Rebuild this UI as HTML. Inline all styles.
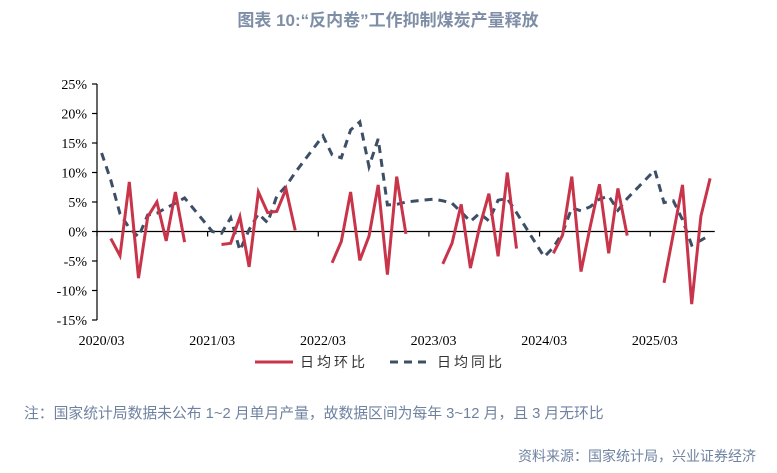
<!DOCTYPE html>
<html><head><meta charset="utf-8">
<style>
body{margin:0;background:#fff;width:777px;height:473px;overflow:hidden;font-family:"Liberation Sans","Noto Sans CJK SC",sans-serif;}
svg{position:absolute;left:0;top:0}
</style></head>
<body>
<svg width="777" height="473" id="chart">
<text x="388" y="26" text-anchor="middle" font-size="17" font-weight="bold" fill="#7d8ea6" font-family="Liberation Sans,Noto Sans CJK SC,sans-serif">图表 10:“反内卷”工作抑制煤炭产量释放</text>
<g id="axes"></g>
<g id="marks"></g>
<g>
<line x1="255" y1="362" x2="293" y2="362" stroke="#c8344a" stroke-width="3"/>
<text x="300" y="367" font-size="14" fill="#333" letter-spacing="3">日均环比</text>
<line x1="390" y1="362" x2="430" y2="362" stroke="#3d4f66" stroke-width="3" stroke-dasharray="8,6"/>
<text x="437" y="367" font-size="14" fill="#333" letter-spacing="3">日均同比</text>
</g>
<text x="24" y="418" font-size="14.8" fill="#6f82a0">注：国家统计局数据未公布 1~2 月单月产量，故数据区间为每年 3~12 月，且 3 月无环比</text>
<text x="756" y="461" text-anchor="end" font-size="14" fill="#6f82a0">资料来源：国家统计局，兴业证券经济</text>
</svg>
<script>
const yTicks=[25,20,15,10,5,0,-5,-10,-15];
const xLabels=["2020/03","2021/03","2022/03","2023/03","2024/03","2025/03"];
const N=null;
// index 0 = 2020/03, monthly through 2025/09
const mom=[N,-1.2,-4.1,8.4,-7.9,2.5,5.0,-1.6,6.7,-1.8, N,N,N,
-2.2,-2.0,2.5,-6.0,6.7,3.2,3.4,7.2,0.2, N,N,N,
-5.3,-1.7,6.7,-4.9,-0.8,7.9,-7.3,9.3,-0.4, N,N,N,
-5.5,-2.0,4.6,-6.2,0.8,6.4,-4.2,10.0,-2.9, N,N,N,
-3.7,-0.6,9.3,-6.8,0.9,8.0,-3.7,7.3,-0.7, N,N,N,
-8.7,-0.4,7.9,-12.3,2.6,9.0];
const yoy=[13.3,8.7,3.0,0.6,-0.9,2.8,3.1,4.0,4.8,5.7, N,N,
0.0,-0.3,2.3,-3.2,0.3,3.0,1.5,6.0,7.7,10.0, N,N,
16.2,13.0,12.5,17.2,18.6,11.0,15.7,4.5,4.6,5.0, N,N,
5.5,5.2,4.8,3.3,1.7,3.1,1.8,5.3,5.6,3.2, N,N,
-4.3,-2.7,-0.2,4.0,3.5,4.2,5.5,6.0,3.6,5.6, N,N,
10.4,4.9,5.2,2.0,-2.3,-1.5,-0.6];
const x0=97,step=9.22,y0=231.5,ppu=5.9;
const X=i=>x0+step*(i+0.5);
const Y=v=>y0-v*ppu;
const NS="http://www.w3.org/2000/svg";
const ax=document.getElementById('axes'),mk=document.getElementById('marks');
function el(t,a,p){const e=document.createElementNS(NS,t);for(const k in a)e.setAttribute(k,a[k]);p.appendChild(e);return e;}
const yl=el('line',{x1:x0,y1:Y(25),x2:x0,y2:Y(-15),stroke:'#000','stroke-width':1.2},ax);


yTicks.forEach(v=>{
 const t=el('line',{x1:x0-5,y1:Y(v),x2:x0,y2:Y(v),stroke:'#000','stroke-width':1.2},ax);
 
 
 const l=el('text',{x:x0-10,y:Y(v)+5,'text-anchor':'end','font-size':14,'font-family':'Liberation Serif,serif',fill:'#000'},ax);
 l.textContent=v+'%';
 
 
});
const xl=el('line',{x1:x0,y1:y0,x2:x0+step*mom.length,y2:y0,stroke:'#000','stroke-width':1.2},ax);


xLabels.forEach((s,k)=>{
 const tx=x0+step*12*k;
 const t=el('line',{x1:tx,y1:y0,x2:tx,y2:y0+5,stroke:'#000','stroke-width':1.2},ax);
 
 
 const l=el('text',{x:X(12*k),y:345,'text-anchor':'middle','font-size':14,'font-family':'Liberation Serif,serif',fill:'#000'},ax);
 l.textContent=s;
 
 
});
let pts=[];yoy.forEach((v,i)=>{if(v!==null)pts.push(X(i).toFixed(1)+','+Y(v).toFixed(1));});
const yp=el('polyline',{points:pts.join(' '),fill:'none',stroke:'#3d4f66','stroke-width':3,'stroke-dasharray':'8,6'},mk);


let seg=[];
function flush(){if(seg.length){const p=el('polyline',{points:seg.join(' '),fill:'none',stroke:'#c8344a','stroke-width':3,'stroke-linejoin':'miter'},mk);


seg=[];}}
mom.forEach((v,i)=>{if(v===null)flush();else seg.push(X(i).toFixed(1)+','+Y(v).toFixed(1));});
flush();
</script>
</body></html>
